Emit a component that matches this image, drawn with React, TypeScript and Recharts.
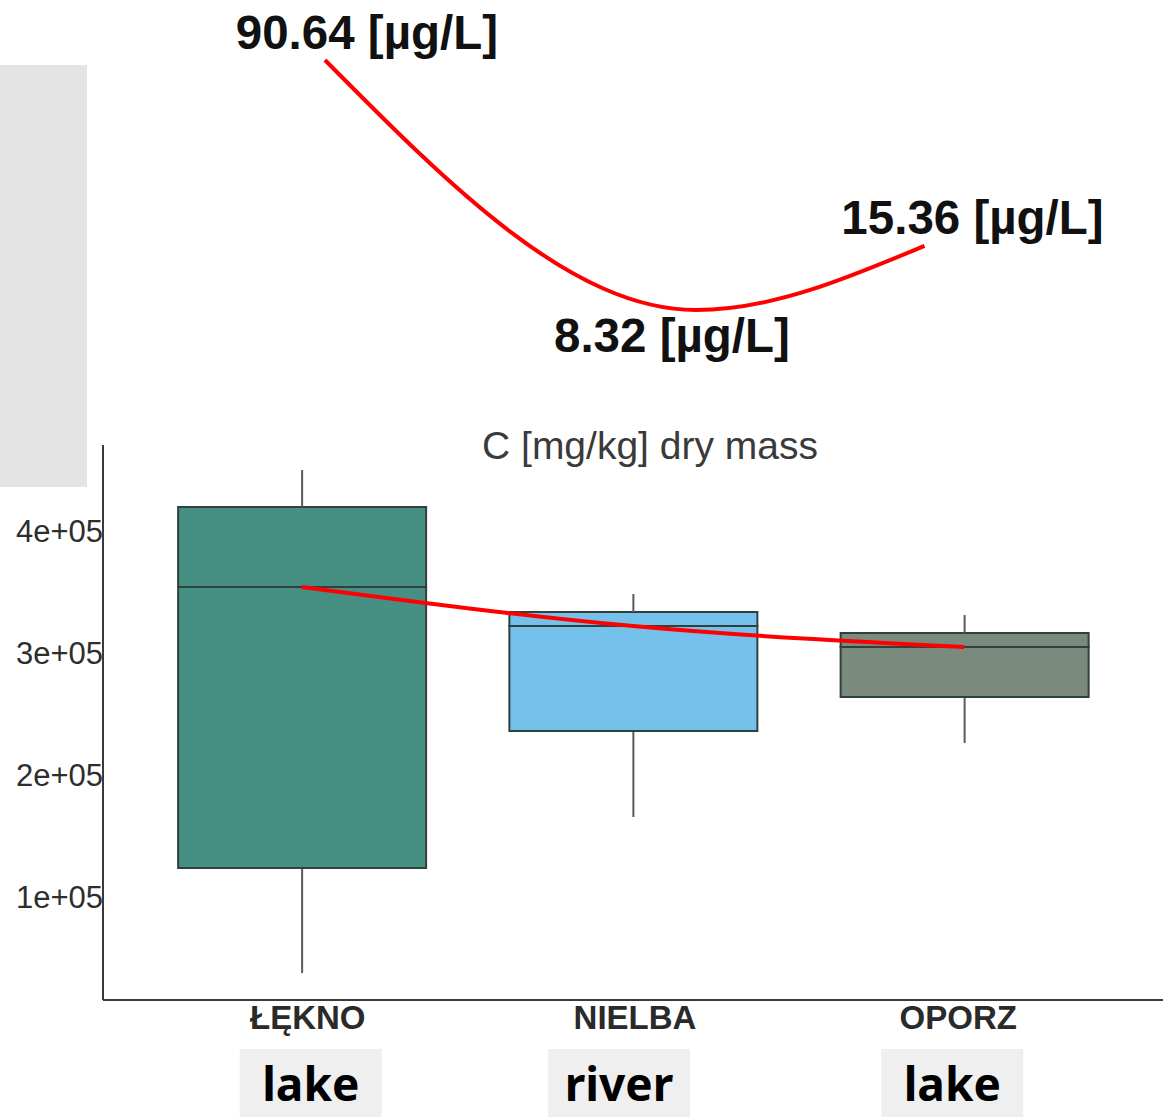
import React from "react";
import {
  ComposedChart,
  Bar,
  Cell,
  Line,
  LabelList,
  XAxis,
  YAxis,
} from "recharts";

// sites and sediment carbon (mg/kg dry mass) box stats
const sites = ["ŁĘKNO", "NIELBA", "OPORZ"];
const siteTypes = ["lake", "river", "lake"];
const whiskerLow = [37700, 165600, 226200];
const q1 = [123800, 236100, 263900];
const median = [354100, 322100, 304900];
const q3 = [419700, 333600, 316400];
const whiskerHigh = [450000, 348400, 331100];
const boxColors = ["#458f83", "#74c2ec", "#7a8a7e"];
const yTicks = [100000, 200000, 300000, 400000];

// water concentration curve drawn above the plot (µg/L)
const waterConc = [90.64, 8.32, 15.36];
const waterPos = [0.07, 1.19, 1.88];

const W = 1163;
const H = 1117;
const xDomain = [-0.6, 2.6];
const labelFont = "'Liberation Sans', Arial, sans-serif";

const boxData = sites.map((s, i) => ({
  idx: i,
  base: whiskerLow[i],
  lowW: q1[i] - whiskerLow[i],
  lowBox: median[i] - q1[i],
  highBox: q3[i] - median[i],
  highW: whiskerHigh[i] - q3[i],
  median: median[i],
}));

const curveData = waterConc.map((v, i) => ({ x: waterPos[i], c: v }));

const labelNudge = [
  { dx: 42, dy: -28 },
  { dx: -24, dy: 25 },
  { dx: 48, dy: -28 },
];
const nameDx = [6, 2, -6];
const typeDx = [9, -14, -12];

const Whisker = (p: any) => {
  const cx = p.x + p.width / 2;
  return (
    <line
      x1={cx}
      x2={cx}
      y1={p.y}
      y2={p.y + p.height}
      stroke="#5a5a5a"
      strokeWidth={2}
    />
  );
};

const SiteTick = (p: any) => {
  const i = Math.round(p.payload.value);
  if (i < 0 || i > 2) return null;
  const tx = p.x + typeDx[i];
  return (
    <g>
      <text
        x={p.x + nameDx[i]}
        y={p.y + 17}
        textAnchor="middle"
        dominantBaseline="central"
        fontFamily={labelFont}
        fontWeight={700}
        fontSize={33}
        fill="#2a2a2a"
      >
        {sites[i]}
      </text>
      <rect x={tx - 71} y={p.y + 49} width={142} height={68} fill="#efefef" />
      <text
        x={tx}
        y={p.y + 101}
        textAnchor="middle"
        fontFamily="'Noto Sans', sans-serif"
        fontWeight={700}
        fontSize={46}
        fill="#000"
      >
        {siteTypes[i]}
      </text>
    </g>
  );
};

const ConcLabel = (p: any) => {
  const n = labelNudge[p.index];
  return (
    <text
      x={p.x + n.dx}
      y={p.y + n.dy}
      textAnchor="middle"
      dominantBaseline="central"
      fontFamily={labelFont}
      fontWeight={700}
      fontSize={47.5}
      fill="#111"
    >
      {Number(p.value).toFixed(2) + " [µg/L]"}
    </text>
  );
};

const sci = (v: number) => (v / 100000).toFixed(0) + "e+05";

export default function App() {
  return (
    <div
      style={{
        position: "absolute",
        left: 0,
        top: 0,
        width: W,
        height: H,
        background: "#fff",
        fontFamily: labelFont,
      }}
    >
      <div
        style={{
          position: "absolute",
          left: 0,
          top: 65,
          width: 87,
          height: 422,
          background: "#e4e4e4",
        }}
      />
      <div
        style={{
          position: "absolute",
          left: 450,
          top: 425,
          width: 400,
          textAlign: "center",
          fontSize: 39,
          lineHeight: "42px",
          color: "#3a3a3a",
        }}
      >
        C [mg/kg] dry mass
      </div>

      <div style={{ position: "absolute", left: 0, top: 0 }}>
        <ComposedChart
          width={W}
          height={H}
          data={boxData}
          margin={{ top: 445, right: 0, bottom: 0, left: 0 }}
        >
          <XAxis
            dataKey="idx"
            type="number"
            domain={xDomain}
            ticks={[0, 1, 2]}
            height={117}
            tickLine={false}
            tickSize={0}
            tickMargin={0}
            tick={<SiteTick />}
            axisLine={{ stroke: "#3a3a3a", strokeWidth: 2 }}
          />
          <YAxis
            type="number"
            domain={[15600, 470500]}
            allowDataOverflow
            ticks={yTicks}
            tickFormatter={sci}
            width={103}
            tickLine={false}
            tickSize={0}
            tickMargin={0}
            tick={{ fontSize: 31, fill: "#2e2e2e", fontFamily: labelFont }}
            axisLine={{ stroke: "#3a3a3a", strokeWidth: 2 }}
          />
          <Bar dataKey="base" stackId="b" fill="transparent" barSize={248} isAnimationActive={false} />
          <Bar dataKey="lowW" stackId="b" barSize={248} shape={<Whisker />} isAnimationActive={false} />
          <Bar
            dataKey="lowBox"
            stackId="b"
            barSize={248}
            stroke="#2f403d"
            strokeWidth={2}
            isAnimationActive={false}
          >
            {boxData.map((d, i) => (
              <Cell key={i} fill={boxColors[i]} />
            ))}
          </Bar>
          <Bar
            dataKey="highBox"
            stackId="b"
            barSize={248}
            stroke="#2f403d"
            strokeWidth={2}
            isAnimationActive={false}
          >
            {boxData.map((d, i) => (
              <Cell key={i} fill={boxColors[i]} />
            ))}
          </Bar>
          <Bar dataKey="highW" stackId="b" barSize={248} shape={<Whisker />} isAnimationActive={false} />
          <Line
            dataKey="median"
            type="monotone"
            stroke="#ff0000"
            strokeWidth={4}
            dot={false}
            isAnimationActive={false}
          />
        </ComposedChart>
      </div>

      <div style={{ position: "absolute", left: 0, top: 0, pointerEvents: "none" }}>
        <ComposedChart
          width={W}
          height={400}
          data={curveData}
          margin={{ top: 60, right: 0, bottom: 90, left: 103 }}
        >
          <XAxis dataKey="x" type="number" domain={xDomain} hide />
          <YAxis
            type="number"
            scale="log"
            domain={[Math.min(...waterConc), Math.max(...waterConc)]}
            hide
          />
          <Line
            dataKey="c"
            type="monotone"
            stroke="#ff0000"
            strokeWidth={4}
            dot={false}
            isAnimationActive={false}
          >
            <LabelList dataKey="c" content={<ConcLabel />} />
          </Line>
        </ComposedChart>
      </div>
    </div>
  );
}
